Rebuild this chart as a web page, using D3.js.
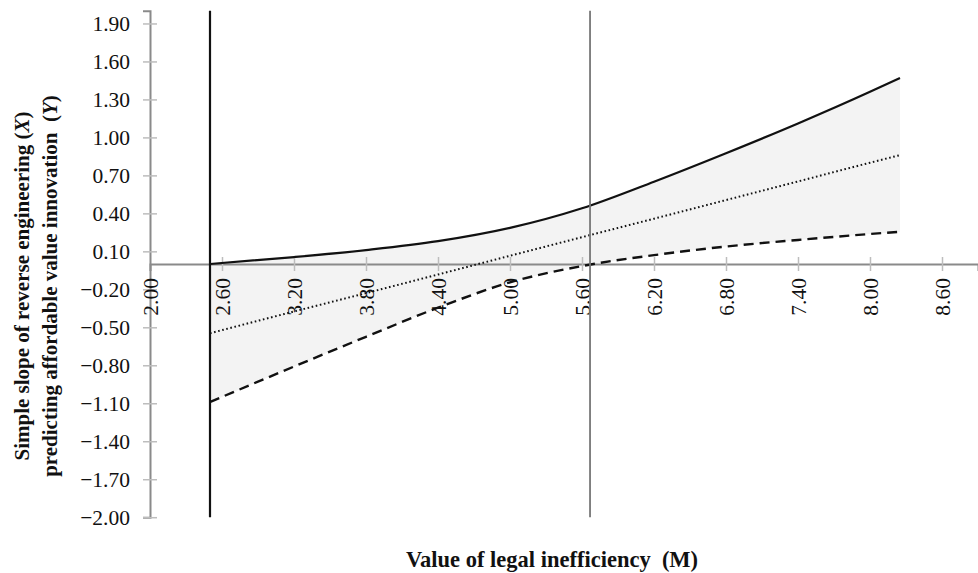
<!DOCTYPE html>
<html>
<head>
<meta charset="utf-8">
<script src="https://cdn.jsdelivr.net/npm/d3@7"></script>
<style>
  body { margin: 0; background: #fff; }
  svg text { font-family: "Liberation Serif", "Times New Roman", serif; fill: #111; }
</style>
</head>
<body>
<svg id="chart" width="978" height="573"></svg>
<script>
// values
const moderator = [2.5, 3.2, 3.8, 4.4, 5.0, 5.6, 6.2, 6.8, 7.4, 8.0, 8.25]
const upperBound = [0.00, 0.055, 0.11, 0.18, 0.285, 0.44, 0.65, 0.875, 1.11, 1.36, 1.47]
const simpleSlope = [-0.547, -0.375, -0.23, -0.083, 0.065, 0.212, 0.358, 0.505, 0.652, 0.80, 0.86]
const lowerBound = [-1.09, -0.81, -0.575, -0.345, -0.145, -0.016, 0.07, 0.138, 0.19, 0.237, 0.255]

const xTicks = [2.0, 2.6, 3.2, 3.8, 4.4, 5.0, 5.6, 6.2, 6.8, 7.4, 8.0, 8.6]
const yTicks = [-2.0, -1.7, -1.4, -1.1, -0.8, -0.5, -0.2, 0.1, 0.4, 0.7, 1.0, 1.3, 1.6, 1.9]
const dataStart = 2.5
const regionBoundary = 5.667

const rows = moderator.map((m, i) => ({ m, lo: lowerBound[i], mid: simpleSlope[i], hi: upperBound[i] }))

const svg = d3.select("#chart")

const xScale = d3.scaleLinear().domain([2.0, 8.9]).range([150, 978])
const yScale = d3.scaleLinear().domain([-2, 2]).range([517.2, 10.8])
const fmt = d3.format(".2f")

// confidence band
svg.append("path")
    .datum(rows)
    .attr("fill", "#f3f3f3")
    .attr("d", d3.area()
        .x(d => xScale(d.m))
        .y0(d => yScale(d.lo))
        .y1(d => yScale(d.hi))
        .curve(d3.curveMonotoneX))

// y axis
const yAxis = svg.append("g")
    .attr("transform", `translate(${xScale(2.0)},0)`)
    .call(d3.axisLeft(yScale).tickValues(yTicks).tickFormat(fmt).tickSizeOuter(0).tickSize(7).tickPadding(13))
yAxis.select(".domain").attr("stroke", "#8a8a8a").attr("stroke-width", 2)
yAxis.selectAll(".tick line").attr("x2", -7).attr("x1", 7).attr("stroke", "#bdbdbd").attr("stroke-width", 1.5)
yAxis.selectAll(".tick text").attr("font-size", 21.5).attr("font-family", "Liberation Serif").attr("fill", "#111")

// x axis on the zero line
const xAxis = svg.append("g")
    .attr("transform", `translate(0,${yScale(0)})`)
    .call(d3.axisBottom(xScale).tickValues(xTicks).tickFormat(fmt).tickSizeOuter(0).tickSize(7))
xAxis.select(".domain").attr("stroke", "#8a8a8a").attr("stroke-width", 2)
xAxis.selectAll(".tick line").attr("y1", -7).attr("y2", 7).attr("stroke", "#bdbdbd").attr("stroke-width", 1.5)
    .filter(d => d === 2.0).remove()
xAxis.selectAll(".tick text")
    .attr("font-size", 21.5).attr("font-family", "Liberation Serif").attr("fill", "#111")
    .attr("transform", "rotate(-90)")
    .attr("text-anchor", "end")
    .attr("x", -14).attr("y", 0).attr("dy", "0.35em")

// lines
const line = key => d3.line().x(d => xScale(d.m)).y(d => yScale(d[key])).curve(d3.curveMonotoneX)

svg.append("path").datum(rows).attr("fill", "none").attr("stroke", "#111")
    .attr("stroke-width", 2.2).attr("d", line("hi"))
svg.append("path").datum(rows).attr("fill", "none").attr("stroke", "#111")
    .attr("stroke-width", 2).attr("stroke-dasharray", "1.6,2.6").attr("d", line("mid"))
svg.append("path").datum(rows).attr("fill", "none").attr("stroke", "#111")
    .attr("stroke-width", 2.4).attr("stroke-dasharray", "10,6").attr("d", line("lo"))

// vertical reference lines
svg.append("line")
    .attr("x1", xScale(dataStart)).attr("x2", xScale(dataStart))
    .attr("y1", yScale(2)).attr("y2", yScale(-2))
    .attr("stroke", "#111").attr("stroke-width", 2.2)
svg.append("line")
    .attr("x1", xScale(regionBoundary)).attr("x2", xScale(regionBoundary))
    .attr("y1", yScale(2)).attr("y2", yScale(-2))
    .attr("stroke", "#777").attr("stroke-width", 1.8)

// axis titles
svg.append("text")
    .attr("x", 552).attr("y", 567)
    .attr("text-anchor", "middle")
    .attr("font-size", 22.5).attr("font-weight", "bold")
    .text("Value of legal inefficiency \u00a0(M)")

const yTitle = svg.append("text")
    .attr("transform", "translate(0,286) rotate(-90)")
    .attr("text-anchor", "middle")
    .attr("font-size", 21).attr("font-weight", "bold")
const t1 = yTitle.append("tspan").attr("x", 0).attr("y", 29)
t1.append("tspan").text("Simple slope of reverse engineering (")
t1.append("tspan").attr("font-style", "italic").text("X")
t1.append("tspan").text(")")
const t2 = yTitle.append("tspan").attr("x", 0).attr("y", 57)
t2.append("tspan").text("predicting affordable value innovation \u00a0(")
t2.append("tspan").attr("font-style", "italic").text("Y")
t2.append("tspan").text(")")
</script>
</body>
</html>
